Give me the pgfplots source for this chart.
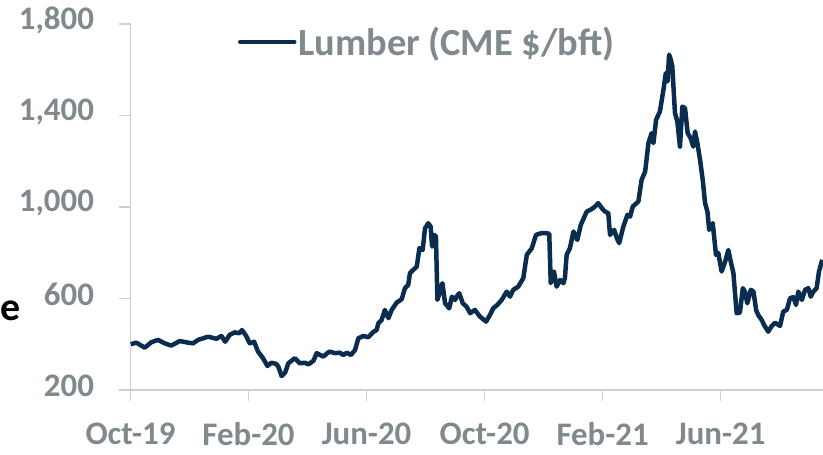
\documentclass[border=0pt]{standalone}
\usepackage{fontspec}
\setmainfont{Carlito}
\usepackage{pgfplots}
\pgfplotsset{compat=1.18}
\definecolor{navy}{HTML}{0A2C4F}
\definecolor{txtgray}{HTML}{7F898E}
\definecolor{axgray}{HTML}{CFCFCF}
\pgfplotstableread{
m v
0.01 400
0.20 407
0.48 385
0.71 409
0.93 419
1.16 404
1.38 394
1.67 414
1.95 407
2.12 404
2.29 419
2.63 433
2.91 424
3.08 436
3.21 411
3.36 441
3.53 452
3.68 448
3.78 462
3.92 436
4.04 404
4.19 411
4.32 368
4.49 339
4.64 305
4.77 319
4.94 314
5.01 302
5.12 261
5.24 276
5.35 317
5.57 339
5.74 317
5.91 319
6.03 312
6.20 328
6.31 361
6.53 346
6.74 368
6.93 361
7.10 363
7.21 353
7.33 363
7.47 353
7.61 375
7.72 426
7.89 436
8.06 431
8.23 454
8.34 462
8.40 492
8.51 506
8.62 550
8.74 514
8.85 550
9.02 582
9.19 597
9.30 645
9.41 659
9.47 711
9.58 725
9.70 739
9.79 820
9.90 812
9.98 907
10.09 929
10.17 914
10.22 827
10.29 878
10.35 871
10.40 594
10.49 630
10.57 667
10.66 579
10.80 557
10.89 608
11.00 594
11.05 608
11.14 623
11.26 579
11.39 564
11.51 536
11.67 550
11.84 521
12.05 499
12.18 528
12.29 557
12.43 572
12.58 594
12.75 630
12.86 608
12.97 638
13.14 652
13.31 689
13.43 791
13.60 820
13.74 878
13.93 886
14.05 886
14.19 883
14.24 667
14.35 718
14.44 652
14.56 681
14.67 667
14.72 689
14.78 791
14.89 820
15.01 893
15.14 856
15.26 922
15.46 980
15.63 991
15.74 1002
15.85 1017
15.97 995
16.08 980
16.19 973
16.25 878
16.39 900
16.48 864
16.56 842
16.70 914
16.84 966
16.93 958
17.02 1002
17.21 1024
17.32 1119
17.44 1155
17.55 1279
17.66 1323
17.72 1279
17.81 1381
17.94 1418
18.06 1513
18.14 1586
18.20 1549
18.25 1666
18.31 1644
18.36 1614
18.45 1411
18.53 1374
18.62 1264
18.70 1439
18.79 1432
18.88 1323
18.98 1301
19.07 1264
19.13 1330
19.21 1279
19.30 1206
19.39 1119
19.47 1017
19.55 980
19.61 900
19.73 929
19.84 791
19.92 798
20.03 718
20.15 761
20.26 812
20.34 761
20.43 711
20.54 536
20.65 538
20.75 645
20.82 630
20.90 579
21.02 638
21.11 630
21.20 550
21.27 528
21.39 506
21.47 484
21.61 455
21.73 480
21.84 494
22.01 480
22.12 543
22.24 550
22.35 601
22.46 606
22.55 572
22.63 630
22.75 594
22.86 638
22.97 645
23.05 608
23.14 630
23.25 645
23.33 718
23.44 769
}\lumber
\begin{document}
\begin{tikzpicture}[x=1bp,y=1bp]
\useasboundingbox (0,0) rectangle (823,455);
\node[anchor=west, inner sep=0pt, font=\fontsize{40}{40}\selectfont\bfseries] at (0.5,144) {e};
\begin{axis}[
  at={(130.5bp,65bp)}, anchor=south west,
  scale only axis, width=692.3bp, height=366bp,
  xmin=0, xmax=23.46, ymin=200, ymax=1800,
  clip=false,
  axis lines*=left,
  axis line style={axgray, line width=1.5bp},
  tick style={axgray, line width=1.5bp},
  major tick length=11bp, tick align=outside,
  xtick={0,4,8,12,16,20},
  xticklabels={Oct-19,Feb-20,Jun-20,Oct-20,Feb-21,Jun-21},
  ytick={200,600,1000,1400,1800},
  /pgf/number format/.cd, 1000 sep={,}, assume math mode=true, /pgfplots/.cd,
  ticklabel style={text=txtgray, font=\fontsize{33}{33}\selectfont\bfseries},
  yticklabel style={xshift=-22bp, yshift=4bp},
  xticklabel style={yshift=-18bp, text depth=0pt},
  legend style={draw=none, fill=none, at={(0.155,0.951)}, anchor=west,
    font=\fontsize{38.5}{38.5}\selectfont\bfseries, text=txtgray, inner sep=0pt},
  legend cell align=left,
  legend image code/.code={\draw[#1, line cap=round] (0bp,0bp) -- (54bp,0bp);},
]
\addplot[navy, line width=4.5bp, line join=round] table[x=m, y=v] {\lumber};
\legend{Lumber (CME \$/bft)}
\end{axis}
\end{tikzpicture}
\end{document}
